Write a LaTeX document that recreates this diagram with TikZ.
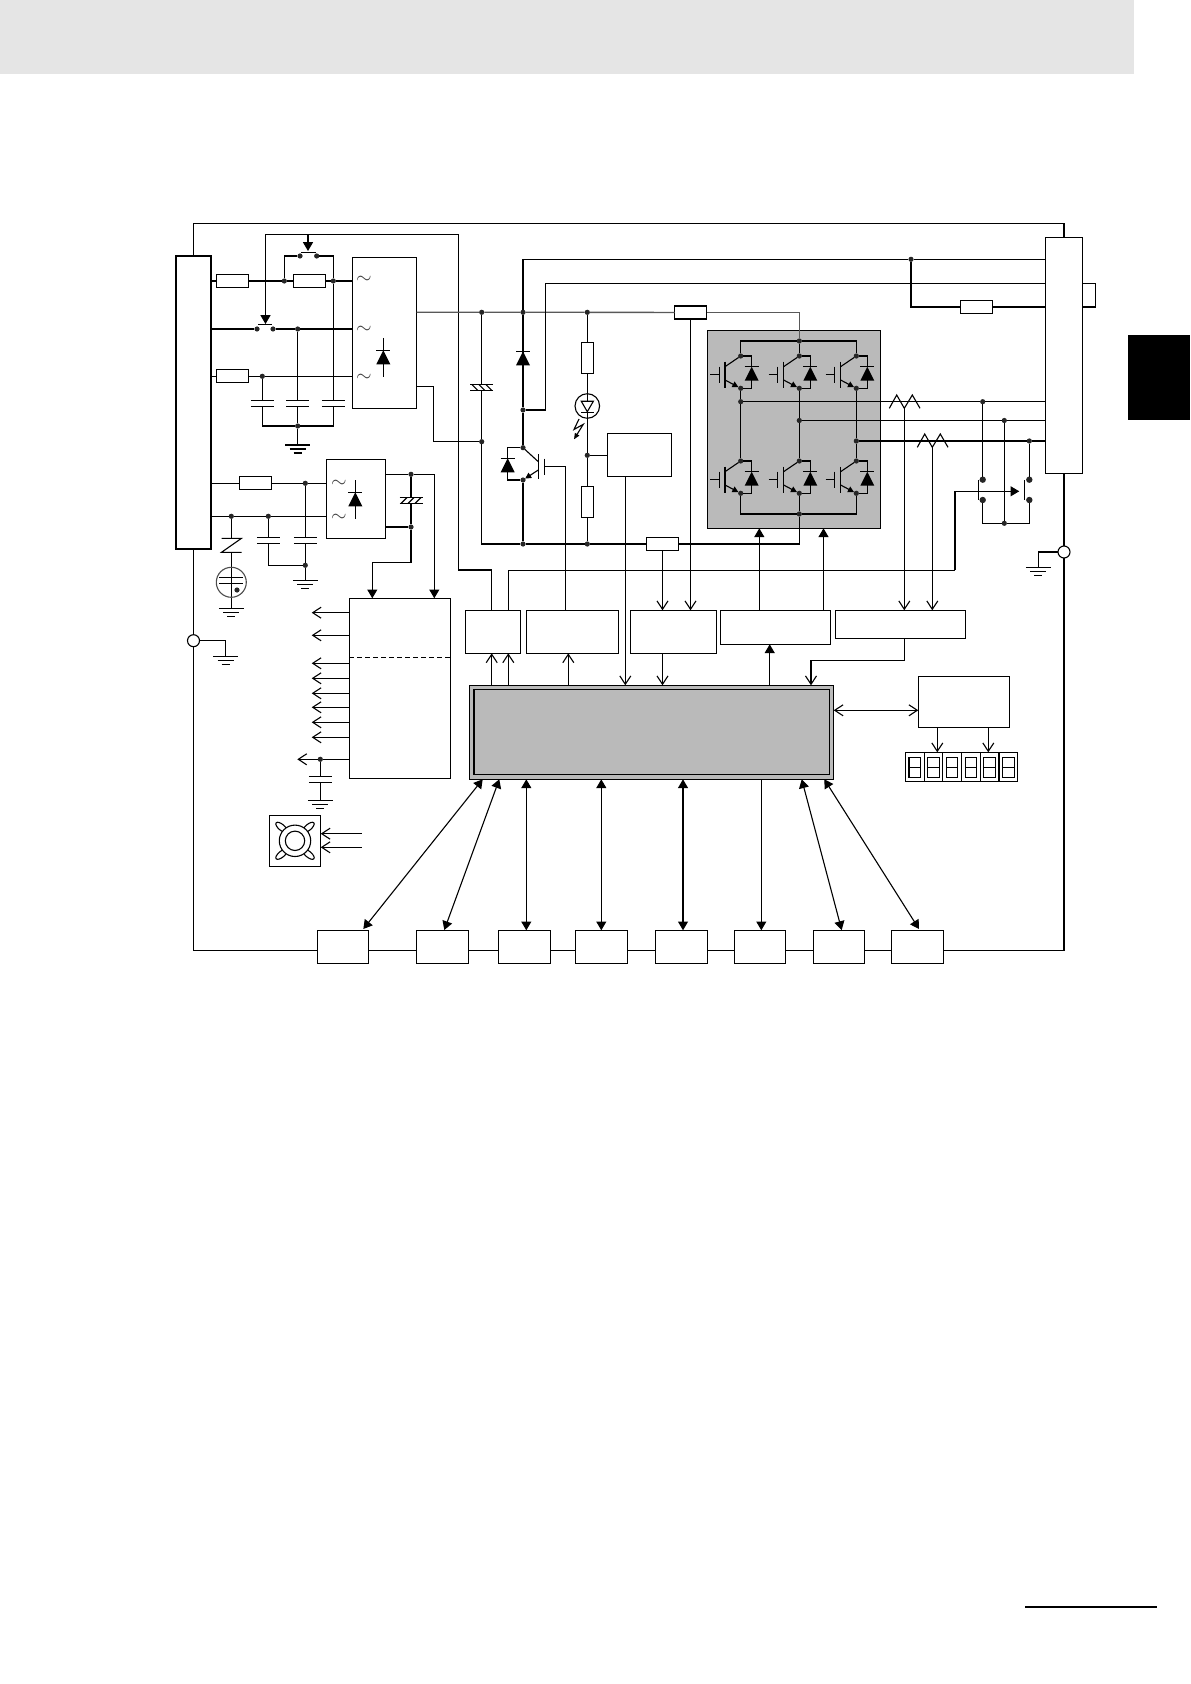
\documentclass[tikz,border=0pt]{standalone}
\usepackage{tikz}
\usetikzlibrary{arrows.meta,calc}
\definecolor{hdrgray}{gray}{0.9}
\definecolor{blockgray}{gray}{0.73}
\tikzset{
    opent/.tip={Straight Barb[length=4.2pt,width=5.5pt]},
    fillt/.tip={Triangle[length=4.4pt,width=5pt]},
    boxsize/.style 2 args={minimum width=#1*0.5pt, minimum height=#2*0.5pt},
    box/.style={draw, rectangle, inner sep=0, outer sep=0, fill=white},
    hres/.style={box, boxsize={32}{13}},
    vres/.style={box, boxsize={12.4}{31}},
    dot/.style={circle, fill=black!85, inner sep=0, outer sep=0, minimum size=2.6pt},
    contact/.style={dot, minimum size=3.2pt},
    ring/.style={draw, circle, fill=white, inner sep=0, outer sep=0, minimum size=6pt},
    bus/.style={draw=black!65, line width=.7pt},
    gnd/.pic={
        \coordinate (-t) at (0,0);
        \draw (-12.5,0) -- (12.5,0);
        \draw (-8,4) -- (8,4);
        \draw (-4,8) -- (4,8);
    },
    capac/.pic={
        \coordinate (-a) at (0,-3);
        \coordinate (-b) at (0,3);
        \draw (-11.5,-3) -- (11.5,-3);
        \draw (-11.5,3) -- (11.5,3);
    },
    ecap/.pic={
        \coordinate (-a) at (0,-3);
        \coordinate (-b) at (0,3);
        \draw (-11.5,-3) -- (11.5,-3);
        \draw (-11.5,3) -- (11.5,3);
        \foreach \t in {-7,0,7} \draw (\t-3,3) -- (\t+3,-3);
    },
    diode/.pic={
        \fill (0,0) -- (7,14) -- (-7,14) -- cycle;
        \draw (-7,0) -- (7,0);
    },
    zig/.pic={
        \coordinate (-o) at (0,6.6);
        \draw (-15,6.6) -- (-7.6,-6.7) -- (0,6.6) -- (8,-6.7) -- (15.7,6.6);
    },
    igbt/.pic={
        \node [dot] (-c) at (0,0) {};
        \node [dot] (-e) at (0,32.3) {};
        \draw (-30.7,18.3) -- (-21.4,18.3);
        \draw (-21.4,10.7) -- (-21.4,27.3);
        \draw (-15.7,5.7) -- (-15.7,31.7);
        \draw (-c) -- (-15.7,10.7);
        \draw [-{Triangle[length=3pt,width=3pt]}] (-15.7,24) -- (-e);
        \draw (-c) -| (11,10.7);
        \draw (11,24.3) |- (-e);
        \pic at (11,10.7) {diode};
    }
}
\begin{document}
\begin{tikzpicture}[x=0.5pt, y=-0.5pt, line width=.55pt]
    \useasboundingbox (0,0) rectangle (1190,1684);

    % Page furniture
    \fill [hdrgray] (0,0) rectangle (1134,73.7);
    \fill [black] (1128,335) rectangle (1190,420);
    \coordinate (ruleA) at (1025,1607);
    \coordinate (ruleB) at (1157,1607);
    \draw [line width=1pt] (ruleA) -- (ruleB);

    % Blocks
    \foreach \name/\cx/\cy/\w/\h in {termL/193.5/402.5/35/293, termR/1064/355.3/37.4/236,
        rectA/384.5/332.8/64.4/151, rectB/356/498.8/59.4/79, vdet/639.5/454.8/64.4/43,
        drvA/492.8/631.8/55/43, drvB/572.5/631.8/92.4/43, drvC/673.5/631.8/86.4/43,
        drvD/775.5/627.3/110.4/34, drvE/900.5/624.3/130.4/28,
        ctl/964/701.8/91.4/51, dcdc/400/688.3/101.4/180, fan/295/840.8/51.4/51}
        \node [box, boxsize={\w}{\h}] (\name) at (\cx,\cy) {};
    \node [box, fill=blockgray, boxsize={173}{198}] (inv) at (793.8,429.3) {};
    \node [box, fill=blockgray, boxsize={364.4}{94}] (cpu) at (651.5,732.3) {};
    \node [box, fill=blockgray, boxsize={355.7}{85.4}] (cpuin) at (651.85,732) {};

    % Bottom row
    \foreach \i/\cx/\w in {1/343/51.4, 2/442.5/52.4, 3/524.5/52.4, 4/601.5/52.4,
        5/681.5/52.4, 6/760/51.4, 7/839/51.4, 8/917.5/52.4}
        \node [box, boxsize={\w}{33}] (io\i) at (\cx,946.8) {};

    % Display
    \foreach \i [evaluate=\i as \cx using 914.7+18.73*\i] in {0,...,5} {
        \node [box, boxsize={18.73}{29}] (seg\i) at (\cx,766.8) {};
        \node [box, boxsize={11.4}{20}] (dig\i) at (\cx,767.3) {};
        \draw (dig\i.west) -- (dig\i.east);
    }

    % Resistors
    \foreach \name/\cx/\cy in {resA/232.5/281, resB/309.5/281, resC/232.5/376.3, resD/255.5/483.3,
        resE/690.5/312.5, resF/662.5/544, resI/976.5/307}
        \node [hres] (\name) at (\cx,\cy) {};
    \foreach \name/\cx/\cy in {resG/587.3/357.8, resH/587.3/502.3}
        \node [vres] (\name) at (\cx,\cy) {};

    % Junctions
    \foreach \name/\cx/\cy in {inAa/284.3/281, inAb/333.3/281, inBa/297.7/329, inCa/262.3/376.3, gndA/297.7/426,
        auxR/305.3/483.3, auxSa/231.3/516.3, auxSb/268.3/516.3, gndB/305.3/565.3, auxP/411/474.3, auxN/411/527,
        busC/481.7/312.3, busD/523/312.3, busL/587.3/312.3, negC/481.7/441.7,
        brkA/523/410, brkB/523/447.7, brkC/523/480, senL/587.3/455.3, retC/523/544, retL/587.3/544,
        invP/799.3/341, invN/799.3/514, phU/740.7/401.7, phV/799.3/420.5, phW/856.3/441,
        dcT/911/259.3, rcU/982.7/401.7, rcV/1004.3/420.5, rcW/1029.3/441, rcN/1004.3/523.3, fanD/320.3/759.3,
        rlyAa/300/256, rlyAb/316.7/256, rlyBa/257/329, rlyBb/273/329}
        \node [dot] (\name) at (\cx,\cy) {};
    \foreach \name/\cx/\cy in {rcAa/982.7/479.7, rcAb/982.7/500, rcBa/1029.3/479.7, rcBb/1029.3/500}
        \node [contact] (\name) at (\cx,\cy) {};
    \node [ring] (peL) at (193.5,640.7) {};
    \node [ring] (peR) at (1064,552) {};

    % Symbols
    \foreach \name/\cx/\cy in {gA/297.7/445, gB/305.3/580.3, gC/231.3/608.3, gD/320.3/800.3, gE/225.7/656.3, gF/1038.3/567.3}
        \pic (\name) at (\cx,\cy) {gnd};
    \foreach \name/\cx/\cy in {cA/262.3/403.5, cB/297.7/403.5, cC/333.3/403.5, cD/268.3/540.3, cE/305.3/540.3, cF/320.3/779.8}
        \pic (\name) at (\cx,\cy) {capac};
    \pic (cG) at (411,500.5) {ecap};
    \pic [xscale=-1] (cH) at (481.7,387.3) {ecap};
    \foreach \name/\cx/\cy in {Qu/740.7/356, Qv/799.3/356, Qw/856.3/356, Qx/740.7/461, Qy/799.3/461, Qz/856.3/461}
        \pic (\name) at (\cx,\cy) {igbt};
    \pic (ctA) at (904.3,401.7) {zig};
    \pic (ctB) at (932.3,440.7) {zig};
    \foreach \i/\cx/\cy in {1/364/280, 2/364/330, 3/364/378, 4/339/484, 5/339/518}
        \node [inner sep=0, text=black!75] (tl\i) at (\cx,\cy) {$\sim$};

    % CPU ports
    \foreach \name/\cx in {pA/491.7, pB/508.3, pC/568.3, pD/625.3, pE/662.5, pF/769.7, pG/811}
        \coordinate (\name) at (\cx,685.3);
    \foreach \name/\cx in {qA/482.7, qB/499.3, qC/526.3, qD/601.3, qE/683, qF/761.3, qG/801.7, qH/824.3}
        \coordinate (\name) at (\cx,779.3);

    % Frame
    \coordinate (botL) at (193.5,950.3);
    \coordinate (botR) at (1064,950.3);
    \draw (termL.north) -- ++(0,-32.5) -| (termR.north);
    \draw (termL.south) -- (peL.north);
    \draw (peL.south) -- (botL) -- (botL -| io1.west);
    \draw (termR.south) -- (peR.north);
    \draw (peR.south) -- (botR) -- (botR -| io8.east);
    \foreach \i/\j in {1/2, 2/3, 3/4, 4/5, 5/6, 6/7, 7/8}
        \draw (botL -| io\i.east) -- (botL -| io\j.west);
    \draw (peL.east) -| (gE-t);
    \draw (peR.west) -| (gF-t);

    % Input rows
    \draw (termL.east |- resA) -- (resA.west);
    \draw (resA.east) -- (inAa) -- (resB.west);
    \draw (resB.east) -- (inAb) -- (rectA.west |- inAb);
    \draw (termL.east |- rlyBa) -- (rlyBa);
    \draw (rlyBb) -- (inBa) -- (rectA.west |- inBa);
    \draw (termL.east |- resC) -- (resC.west);
    \draw (resC.east) -- (inCa) -- (rectA.west |- inCa);
    \draw (rlyAa) -| (inAa);
    \draw (rlyAb) -| (inAb);
    \draw (inCa) -- (cA-a);
    \draw (inBa) -- (cB-a);
    \draw (inAb) -- (cC-a);
    \draw (cA-b) |- (gndA);
    \draw (cC-b) |- (gndA);
    \draw (cB-b) -- (gndA) -- (gA-t);

    % Relay coils
    \coordinate (kmT) at (265.5,234.5);
    \coordinate (kmTipB) at (265.5,324);
    \coordinate (kmJ) at (308,234.5);
    \coordinate (kmTipA) at (308,251);
    \coordinate (kmW) at (458.5,570);
    \draw (drvA.north -| pA) |- (kmW) |- (kmT);
    \draw [-fillt] (kmT) -- (kmTipB);
    \draw [-fillt] (kmJ) -- (kmTipA);
    \draw ($(rlyAa)+(1,-3.7)$) -- ($(rlyAb)+(-1,-3.7)$);
    \draw ($(rlyBa)+(1,-4.7)$) -- ($(rlyBb)+(-1,-4.7)$);

    % Rectifier diodes
    \draw (383.3,338) -- (383.3,376.7);
    \pic at (383.3,350.3) {diode};
    \draw (355.3,480) -- (355.3,518.7);
    \pic at (355.3,492.3) {diode};

    % Auxiliary supply
    \draw (termL.east |- resD) -- (resD.west);
    \draw (resD.east) -- (auxR) -- (rectB.west |- auxR);
    \draw (termL.east |- auxSa) -- (auxSa) -- (auxSb) -- (rectB.west |- auxSa);
    \draw (auxSb) -- (cD-a);
    \draw (auxR) -- (cE-a);
    \draw (cD-b) |- (gndB);
    \draw (cE-b) -- (gndB) -- (gB-t);
    \draw (auxSa) -- (231.3,538.3);
    \draw (221.5,538.3) -- (241.5,538.3) -- (221.5,552.3) -- (241.5,552.3);
    \draw (231.3,552.3) -- (gC-t);
    \node [draw=black!70, circle, inner sep=0, minimum size=15pt] (gas) at (231.3,582.3) {};
    \draw (219.3,577.3) -- (243.3,577.3);
    \draw (219.3,583.3) -- (243.3,583.3);
    \node [dot] (gasD) at (237,590) {};
    \coordinate (dcA) at (372.3,598.3);
    \coordinate (dcB) at (434.3,598.3);
    \draw (rectB.east |- auxP) -- (auxP);
    \draw [-fillt] (auxP) -| (dcB);
    \draw (rectB.east |- auxN) -- (auxN);
    \draw (auxP) -- (cG-a);
    \draw (cG-b) -- (auxN);
    \draw [-fillt] (auxN) -- ++(0,35.3) -| (dcA);

    % Supply outputs
    \foreach \y in {612.7,635.3,663.3,678.3,693.3,707.3,722.3,737.3}
        \draw [-opent] (dcdc.west |- 0,\y) -- ++(-37.6,0);
    \draw (dcdc.west |- fanD) -- (fanD);
    \draw [-opent] (fanD) -- ++(-23,0);
    \draw (fanD) -- (cF-a);
    \draw (cF-b) -- (gD-t);
    \draw [dash pattern=on 2.5pt off 1.5pt] (dcdc.west |- 0,657.3) -- (dcdc.east |- 0,657.3);

    % Fan
    \foreach \sx/\sy in {-1/-1, 1/-1, -1/1, 1/1}
        \draw [fill=white, shift={(fan.center)}] (\sx*13.5,\sy*13.5) ellipse [x radius=7, y radius=3, rotate=-\sx*\sy*40];
    \draw [fill=white] (fan.center) circle [radius=15.7];
    \draw (fan.center) circle [radius=9.7];
    \coordinate (fanA) at (361.7,833.7);
    \coordinate (fanB) at (361.7,847.3);
    \draw [-opent] (fanA) -- (fan.east |- fanA);
    \draw [-opent] (fanB) -- (fan.east |- fanB);

    % DC bus
    \coordinate (rectN) at (416.7,386.7);
    \coordinate (dcM) at (433.3,441.7);
    \draw [bus] (rectA.east |- busC) -- (busC) -- (busD) -- (busL) -- (resE.west);
    \draw [bus] (resE.east) -| (invP);
    \draw (rectN) -| (dcM) -- (negC);
    \draw (busC) -- (cH-a);
    \draw (cH-b) -- (negC) -- (negC |- retC) -- (retC) -- (retL) -- (resF.west);
    \draw (resF.east) -| (invN);

    % Braking branch
    \coordinate (brkT) at (545.3,283.3);
    \coordinate (brkG) at (565.5,466.3);
    \draw (termR.west |- dcT) -- (dcT) -| (busD);
    \draw (busD) -- (brkA) -- (brkB);
    \draw (termR.west |- brkT) -- (brkT) |- (brkA);
    \draw (brkC) -- (retC);
    \pic at (523,351.3) {diode};
    \draw (brkB) -- (538.3,461.7);
    \draw [-{Triangle[length=3pt,width=3pt]}] (538.3,470) -- (brkC);
    \draw (538.3,454.3) -- (538.3,479.3);
    \draw (544.3,458.7) -- (544.3,475.3);
    \draw (544.3,466.3) -- (brkG) -- (brkG |- drvB.north);
    \draw (brkB) -| (507.7,458.3);
    \draw (507.7,472.3) |- (brkC);
    \pic at (507.7,458.3) {diode};

    % LED branch
    \draw (busL) -- (resG.north);
    \draw (resG.south) -- (senL) -- (resH.north);
    \draw (resH.south) -- (retL);
    \node [draw, circle, inner sep=0, minimum size=12.3pt] (led) at (587.3,406) {};
    \draw [fill=white] (581.3,401.3) -- (593.3,401.3) -- (587.3,411.7) -- cycle;
    \draw (581,412.3) -- (593.6,412.3);
    \draw [-{Triangle[length=3pt,width=2.5pt]}] (579,419) -- (574,429.5) -- (583.3,424.3) -- (574,439.3);
    \draw (senL) -- (vdet.west |- senL);
    \draw [-opent] (vdet.south -| pD) -- (pD);

    % Inverter
    \draw (Qu-c) |- (invP);
    \draw (Qw-c) |- (invP);
    \draw (invP) -- (Qv-c);
    \draw (Qx-e) |- (invN);
    \draw (Qz-e) |- (invN);
    \draw (Qy-e) -- (invN);
    \draw (Qu-e) -- (phU) -- (Qx-c);
    \draw (Qv-e) -- (phV) -- (Qy-c);
    \draw (Qw-e) -- (phW) -- (Qz-c);
    \draw (phU) -- (rcU) -- (termR.west |- phU);
    \draw (phV) -- (rcV) -- (termR.west |- phV);
    \draw (phW) -- (rcW) -- (termR.west |- phW);
    \coordinate (gUpA) at (759.3,610.3);
    \coordinate (gUpB) at (823.5,610.3);
    \draw [-fillt] (gUpA) -- (inv.south -| gUpA);
    \draw [-fillt] (gUpB) -- (inv.south -| gUpB);

    % Output contactor
    \draw (rcU) -- (rcAa);
    \draw (rcW) -- (rcBa);
    \draw (rcV) -- (rcN);
    \draw (rcAb) |- (rcN);
    \draw (rcBb) |- (rcN);
    \draw (978.3,480) -- (978.3,500.3);
    \draw (1024.3,480) -- (1024.3,500.3);
    \coordinate (mcW) at (955,570.3);
    \coordinate (mcT) at (955,491.3);
    \coordinate (mcTip) at (1019.3,491.3);
    \draw (drvA.north -| pB) |- (mcW);
    \draw [line width=.9pt] (mcW) -- (mcT);
    \draw [-fillt] (mcT) -- (mcTip);

    % Right terminal
    \coordinate (loopR) at (1095.7,307);
    \draw (termR.east |- brkT) -| (loopR) -- (termR.east |- loopR);
    \draw (dcT) |- (resI.west);
    \draw (resI.east) -- (termR.west |- resI);

    % Current sensing
    \draw [-opent] (ctA-o) -- (ctA-o |- drvE.north);
    \draw [-opent] (ctB-o) -- (ctB-o |- drvE.north);
    \draw [-opent] (resF.south) -- (resF.south |- drvC.north);
    \draw [-opent] (resE.south) -- (resE.south |- drvC.north);

    % Links to CPU
    \draw [-opent] (pA) -- (pA |- drvA.south);
    \draw [-opent] (pB) -- (pB |- drvA.south);
    \draw [-opent] (pC) -- (pC |- drvB.south);
    \draw [-opent] (drvC.south -| pE) -- (pE);
    \draw [-fillt] (pF) -- (pF |- drvD.south);
    \draw [-opent] (ctA-o |- drvE.south) -- ++(0,22) -| (pG);
    \coordinate (ctlL) at (870,710.3);
    \coordinate (dspA) at (937.3,752.3);
    \coordinate (dspB) at (988.3,752.3);
    \draw [opent-opent] (cpu.east |- ctlL) -- (ctl.west |- ctlL);
    \draw [-opent] (ctl.south -| dspA) -- (dspA);
    \draw [-opent] (ctl.south -| dspB) -- (dspB);

    % Option links
    \coordinate (ioA) at (363.3,929);
    \coordinate (ioB) at (444.3,930);
    \coordinate (ioG) at (841.7,930);
    \coordinate (ioH) at (919,929);
    \draw [fillt-fillt] (qA) -- (ioA);
    \draw [fillt-fillt] (qB) -- (ioB);
    \draw [fillt-fillt] (qC) -- (qC |- io3.north);
    \draw [fillt-fillt] (qD) -- (qD |- io4.north);
    \draw [fillt-fillt] (qE) -- (qE |- io5.north);
    \draw [-fillt] (qF) -- (qF |- io6.north);
    \draw [fillt-fillt] (qG) -- (ioG);
    \draw [fillt-fillt] (qH) -- (ioH);
\end{tikzpicture}
\end{document}
